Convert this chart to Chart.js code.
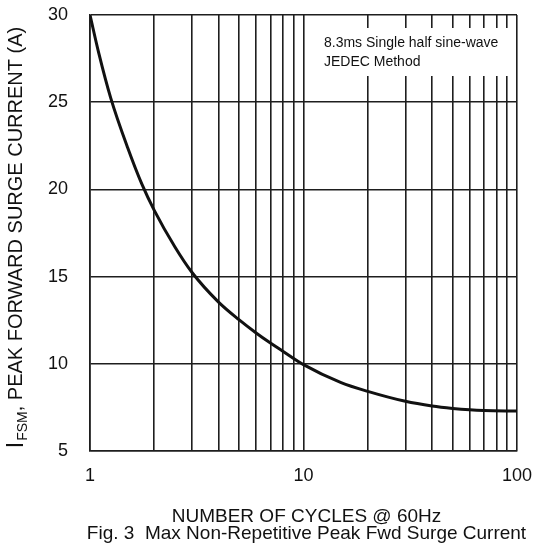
<!DOCTYPE html>
<html>
<head>
<meta charset="utf-8">
<script src="https://cdn.jsdelivr.net/npm/chart.js@4.4.0/dist/chart.umd.min.js"></script>
<style>
  html, body { margin: 0; padding: 0; background: #fff; }
  #wrap { width: 536px; height: 553px; position: relative; }
</style>
</head>
<body>
<div id="wrap"><canvas id="grafico"></canvas></div>
<script>
// dados
const ciclos = [1, 1.1, 1.25, 1.5, 1.75, 2, 2.5, 3, 4, 5, 6, 7, 8, 10, 15, 20, 30, 40, 50, 60, 70, 100];
const correnteIfsm = [30, 27.8, 25.25, 22.4, 20.3, 18.8, 16.7, 15.25, 13.54, 12.52, 11.77, 11.19, 10.72, 9.95, 8.92, 8.42, 7.85, 7.58, 7.44, 7.36, 7.32, 7.29];
const ticksX = [1, 2, 3, 4, 5, 6, 7, 8, 9, 10, 20, 30, 40, 50, 60, 70, 80, 90, 100];
const rotulosX = [1, 10, 100];
const ticksY = [5, 10, 15, 20, 25, 30];
const notaLinhas = ['8.3ms Single half sine-wave', 'JEDEC Method'];
const tituloX = 'NUMBER OF CYCLES @ 60Hz';
const legendaFig = 'Fig. 3  Max Non-Repetitive Peak Fwd Surge Current';

const fonte = '"Liberation Sans", Arial, sans-serif';
const corLinha = '#1e1e1e';

// textos extras (titulos, nota)
const textosPlugin = {
  id: 'textos',
  afterDraw(chart) {
    const ctx = chart.ctx;
    const area = chart.chartArea;
    ctx.save();

    // caixa da nota
    ctx.fillStyle = '#fff';
    ctx.fillRect(312, 28, 197, 48);
    ctx.fillStyle = '#111';
    ctx.font = '14px ' + fonte;
    ctx.textBaseline = 'middle';
    ctx.textAlign = 'left';
    ctx.fillText(notaLinhas[0], 324, 43);
    ctx.fillText(notaLinhas[1], 324, 62);

    // titulo eixo X e legenda da figura
    const cx = (area.left + area.right) / 2 + 3;
    ctx.textAlign = 'center';
    ctx.font = '19px ' + fonte;
    ctx.fillText(tituloX, cx, 517);
    ctx.fillText(legendaFig, cx, 534);

    // titulo eixo Y com subscrito
    ctx.translate(22, 238);
    ctx.rotate(-Math.PI / 2);
    const fGrande = '23px ' + fonte;
    const fSub = '14px ' + fonte;
    const fNormal = '20px ' + fonte;
    const resto = ', PEAK FORWARD SURGE CURRENT (A)';
    ctx.font = fGrande; const wI = ctx.measureText('I').width;
    ctx.font = fSub; const wS = ctx.measureText('FSM').width;
    ctx.font = fNormal; const wR = ctx.measureText(resto).width;
    let x = -(wI + wS + wR) / 2;
    ctx.textAlign = 'left';
    ctx.textBaseline = 'alphabetic';
    ctx.font = fGrande; ctx.fillText('I', x, 1); x += wI + 1;
    ctx.font = fSub; ctx.fillText('FSM', x, 5); x += wS;
    ctx.font = fNormal; ctx.fillText(resto, x, 0);
    ctx.restore();
  }
};

new Chart(document.getElementById('grafico'), {
  type: 'line',
  data: {
    datasets: [{
      data: ciclos.map((c, i) => ({ x: c, y: correnteIfsm[i] })),
      borderColor: '#111',
      borderWidth: 3,
      pointRadius: 0,
      cubicInterpolationMode: 'monotone',
      fill: false
    }]
  },
  options: {
    responsive: true,
    maintainAspectRatio: false,
    animation: false,
    events: [],
    layout: { padding: { top: 15, right: 19, left: 0, bottom: 0 } },
    plugins: { legend: { display: false }, tooltip: { enabled: false } },
    scales: {
      x: {
        type: 'logarithmic',
        min: 1,
        max: 100,
        afterBuildTicks: (s) => { s.ticks = ticksX.map(v => ({ value: v })); },
        afterFit: (s) => {
          s.height = 102;
          s.paddingLeft = 0; s.paddingRight = 0;
        },
        ticks: {
          autoSkip: false,
          maxRotation: 0,
          color: '#111',
          padding: 14,
          font: { family: fonte, size: 18 },
          callback: (v) => rotulosX.includes(v) ? String(v) : ''
        },
        grid: { color: corLinha, lineWidth: 1.6, drawTicks: false },
        border: { color: corLinha, width: 1.6 }
      },
      y: {
        min: 5,
        max: 30,
        afterBuildTicks: (s) => { s.ticks = ticksY.map(v => ({ value: v })); },
        afterFit: (s) => {
          s.width = 90;
          s.paddingTop = 0; s.paddingBottom = 0;
        },
        ticks: {
          color: '#111',
          padding: 22,
          font: { family: fonte, size: 18 }
        },
        grid: { color: corLinha, lineWidth: 1.6, drawTicks: false },
        border: { color: corLinha, width: 1.6 }
      }
    }
  },
  plugins: [textosPlugin]
});
</script>
</body>
</html>
